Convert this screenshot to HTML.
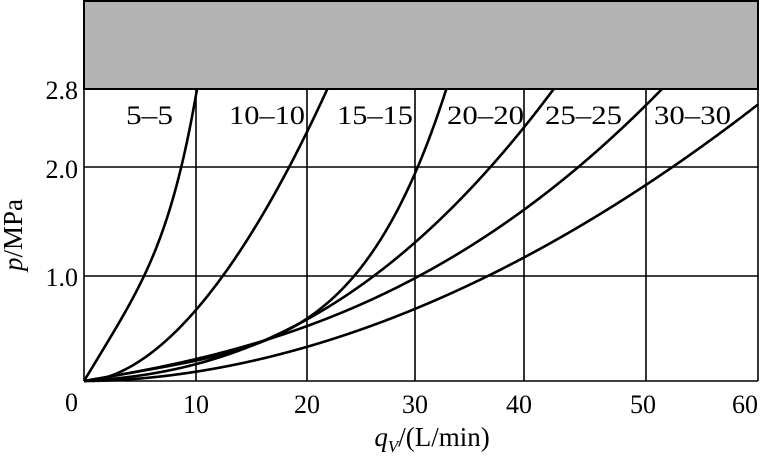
<!DOCTYPE html>
<html><head><style>body{margin:0;background:#fff}</style></head><body>
<svg id="s" width="767" height="455" xmlns="http://www.w3.org/2000/svg" font-family="Liberation Serif, serif" font-size="26">
<rect x="84" y="1" width="674" height="88" fill="#b3b3b3" stroke="#000" stroke-width="2"/>
<g stroke="#000" stroke-width="1.6" fill="none">
<line x1="84" y1="89" x2="84" y2="381"/>
<line x1="758" y1="89" x2="758" y2="381"/>
<line x1="84" y1="381" x2="758" y2="381"/>
<line x1="84" y1="167" x2="758" y2="167"/>
<line x1="84" y1="276" x2="758" y2="276"/>
<line x1="196" y1="89" x2="196" y2="381"/>
<line x1="307" y1="89" x2="307" y2="381"/>
<line x1="415" y1="89" x2="415" y2="381"/>
<line x1="524" y1="89" x2="524" y2="381"/>
<line x1="646" y1="89" x2="646" y2="381"/>
</g>
<g id="curves" stroke="#000" stroke-width="2.6" fill="none"></g>
<g fill="#000">
<text x="126" y="124" textLength="47" lengthAdjust="spacingAndGlyphs">5–5</text>
<text x="229" y="124" textLength="76" lengthAdjust="spacingAndGlyphs">10–10</text>
<text x="337" y="124" textLength="76" lengthAdjust="spacingAndGlyphs">15–15</text>
<text x="447" y="124" textLength="77" lengthAdjust="spacingAndGlyphs">20–20</text>
<text x="545" y="124" textLength="77" lengthAdjust="spacingAndGlyphs">25–25</text>
<text x="654" y="124" textLength="77" lengthAdjust="spacingAndGlyphs">30–30</text>
<g text-anchor="end">
<text x="78" y="99">2.8</text>
<text x="78" y="178">2.0</text>
<text x="78" y="286">1.0</text>
<text x="78" y="411">0</text>
</g>
<g text-anchor="middle">
<text x="196" y="413">10</text>
<text x="307" y="413">20</text>
<text x="415" y="413">30</text>
<text x="519" y="413">40</text>
<text x="643" y="413">50</text>
<text x="745" y="413">60</text>
<text x="432" y="446" font-size="27"><tspan font-style="italic">q</tspan><tspan font-style="italic" font-size="17" dy="6">V</tspan><tspan dy="-6">/(L/min)</tspan></text>
</g>
<text transform="translate(22,235) rotate(-90)" text-anchor="middle" font-size="27"><tspan font-style="italic">p</tspan>/MPa</text>
</g>
</svg>
<script>
var data=[
[[60,105],[97,213],[113,292]],
[[112,69],[138,105],[204,213],[224,252],[244,292]],
[[112,21],[223,65],[275,105],[331,213],[363,292]],
[[112,18],[223,60],[331,139],[404,213],[440,252],[468,290]],
[[112,17],[223,59],[331,104],[440,169],[494,213],[575,290]],
[[112,10],[223,32],[331,70],[440,125],[561,197],[584,213],[674,274]]
];
var g=document.getElementById('curves');
data.forEach(function(pts){
  var best=null;
  for(var n=1.2;n<=6;n+=0.01){
    var s11=0,s12=0,s22=0,b1=0,b2=0;
    pts.forEach(function(p){var f1=p[0],f2=Math.pow(p[0],n);s11+=f1*f1;s12+=f1*f2;s22+=f2*f2;b1+=f1*p[1];b2+=f2*p[1];});
    var det=s11*s22-s12*s12;var a=(b1*s22-b2*s12)/det,c=(s11*b2-s12*b1)/det;
    if(a<0){a=0;c=b2/s22;}
    var e=0;pts.forEach(function(p){var d=a*p[0]+c*Math.pow(p[0],n)-p[1];e+=d*d;});
    if(!best||e<best.e)best={e:e,a:a,c:c,n:n};
  }
  var d='M84,381';
  for(var u=0.5;u<=674;u+=0.5){
    var v=best.a*u+best.c*Math.pow(u,best.n);
    if(v>=292){
      // find exact crossing
      var lo=u-0.5,hi=u;for(var k=0;k<20;k++){var m=(lo+hi)/2;(best.a*m+best.c*Math.pow(m,best.n)<292)?lo=m:hi=m;}
      d+=' L'+(84+lo).toFixed(2)+',89';break;
    }
    d+=' L'+(84+u).toFixed(2)+','+(381-v).toFixed(2);
  }
  var p=document.createElementNS('http://www.w3.org/2000/svg','path');p.setAttribute('d',d);g.appendChild(p);
});
</script>
</body></html>
